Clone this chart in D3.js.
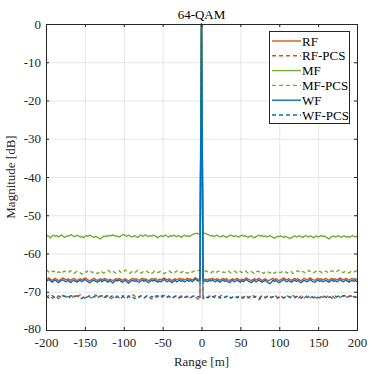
<!DOCTYPE html>
<html><head><meta charset="utf-8">
<script src="https://cdn.jsdelivr.net/npm/d3@7"></script>
<style>
html,body{margin:0;padding:0;background:#fff;}
svg{display:block;font-family:"Liberation Serif","Times New Roman",serif;}
</style></head>
<body><svg id="chart" width="379" height="374"></svg>
<script>
const rangeM = [-200,-198,-196,-194,-192,-190,-188,-186,-184,-182,-180,-178,-176,-174,-172,-170,-168,-166,-164,-162,
-160,-158,-156,-154,-152,-150,-148,-146,-144,-142,-140,-138,-136,-134,-132,-130,-128,-126,-124,-122,
-120,-118,-116,-114,-112,-110,-108,-106,-104,-102,-100,-98,-96,-94,-92,-90,-88,-86,-84,-82,
-80,-78,-76,-74,-72,-70,-68,-66,-64,-62,-60,-58,-56,-54,-52,-50,-48,-46,-44,-42,
-40,-38,-36,-34,-32,-30,-28,-26,-24,-22,-20,-18,-16,-14,-12,-10,-8,-6,-4,-2,
0,
2,4,6,8,10,12,14,16,18,20,22,24,26,28,30,32,34,36,38,40,
42,44,46,48,50,52,54,56,58,60,62,64,66,68,70,72,74,76,78,80,
82,84,86,88,90,92,94,96,98,100,102,104,106,108,110,112,114,116,118,120,
122,124,126,128,130,132,134,136,138,140,142,144,146,148,150,152,154,156,158,160,
162,164,166,168,170,172,174,176,178,180,182,184,186,188,190,192,194,196,198,200];

const RF = [-66.9,-66.6,-66.4,-66.8,-67.0,-66.7,-66.5,-66.8,-67.1,-66.9,
-66.6,-66.4,-66.7,-66.9,-66.6,-66.8,-67.0,-66.7,-66.5,-66.8,
-67.1,-66.8,-66.6,-66.9,-66.7,-66.4,-66.6,-66.9,-67.2,-66.9,
-66.7,-66.5,-66.8,-67.0,-66.8,-66.6,-66.9,-66.7,-66.5,-66.8,
-67.0,-66.7,-66.9,-67.1,-66.8,-66.6,-66.8,-66.5,-66.7,-67.0,
-66.8,-66.6,-66.9,-67.2,-66.9,-66.7,-66.5,-66.8,-66.6,-66.9,
-67.0,-66.7,-66.5,-66.8,-66.6,-66.9,-67.1,-66.8,-66.6,-66.7,
-66.5,-66.8,-67.0,-66.7,-66.9,-66.6,-66.4,-66.7,-66.9,-66.6,
-66.8,-67.1,-66.8,-66.6,-66.9,-66.7,-66.5,-66.8,-66.6,-66.9,
-66.7,-66.5,-66.8,-66.6,-66.9,-66.7,-66.3,-66.6,-66.8,-66.7,
0,
-66.6,-66.8,-66.7,-66.9,-66.6,-66.8,-66.5,-66.7,-66.9,-66.6,
-66.8,-67.0,-66.7,-66.5,-66.8,-66.6,-66.9,-67.1,-66.8,-66.6,
-66.9,-66.7,-66.5,-66.8,-67.0,-66.7,-66.9,-66.6,-66.4,-66.7,
-66.9,-67.1,-66.8,-66.6,-66.9,-66.7,-66.5,-66.8,-67.0,-66.8,
-66.6,-66.9,-67.2,-66.9,-66.7,-66.5,-66.8,-66.6,-66.9,-67.1,
-66.8,-66.6,-66.4,-66.7,-66.9,-66.6,-66.8,-67.0,-66.7,-66.5,
-66.8,-66.6,-66.9,-67.1,-66.8,-66.5,-66.7,-66.9,-66.6,-66.4,
-66.7,-66.9,-67.0,-66.7,-66.5,-66.8,-66.6,-66.9,-66.7,-66.5,
-66.8,-67.0,-66.7,-66.5,-66.8,-66.6,-66.9,-66.7,-66.4,-66.6,
-66.9,-66.7,-66.5,-66.8,-67.0,-66.7,-66.5,-66.8,-66.6,-66.9];

const RF_PCS = [-71.5,-71.2,-70.9,-71.4,-71.7,-71.3,-71.0,-71.4,-71.8,-71.5,
-71.2,-70.9,-71.3,-71.6,-71.2,-71.4,-71.9,-71.5,-71.1,-71.3,
-71.6,-71.2,-70.8,-71.1,-71.4,-71.7,-71.3,-71.0,-71.3,-71.6,
-71.4,-71.1,-70.8,-71.2,-71.5,-71.2,-71.0,-71.4,-71.7,-71.3,
-71.1,-71.4,-71.8,-71.5,-71.2,-70.9,-71.3,-71.6,-71.2,-71.0,
-71.4,-71.7,-71.3,-71.1,-71.5,-71.2,-70.8,-71.1,-71.4,-71.6,
-71.3,-71.0,-71.4,-71.7,-71.4,-71.1,-71.3,-71.6,-71.9,-71.5,
-71.2,-71.0,-71.3,-71.5,-71.2,-70.9,-71.2,-71.5,-71.3,-71.1,
-71.4,-71.7,-71.4,-71.1,-71.3,-71.6,-71.3,-71.0,-71.2,-71.5,
-71.3,-71.0,-71.4,-71.6,-71.3,-71.1,-71.4,-71.7,-71.9,-72.0,
0,
-71.8,-71.5,-71.2,-71.4,-71.1,-71.3,-71.6,-71.2,-71.0,-71.3,
-71.5,-71.2,-70.9,-71.2,-71.5,-71.3,-71.0,-71.4,-71.7,-71.4,
-71.1,-71.3,-71.6,-71.3,-71.0,-71.4,-71.7,-71.3,-71.1,-71.4,
-71.6,-71.3,-71.0,-71.2,-71.5,-71.8,-72.1,-71.7,-71.4,-71.2,
-71.5,-71.3,-71.0,-71.3,-71.6,-71.2,-70.9,-71.2,-71.5,-71.3,
-71.1,-71.4,-71.7,-71.4,-71.1,-71.3,-71.6,-71.2,-71.0,-71.3,
-71.5,-71.8,-71.4,-71.1,-71.3,-71.6,-71.3,-71.0,-71.3,-71.6,
-71.3,-71.0,-71.4,-71.7,-71.4,-71.1,-71.3,-71.5,-71.2,-70.9,
-71.2,-71.5,-71.3,-71.0,-71.4,-71.7,-71.3,-71.1,-71.4,-71.6,
-71.2,-70.9,-71.3,-71.6,-71.3,-71.0,-71.4,-71.2,-71.5,-71.3];

const MF = [-55.5,-55.3,-55.6,-55.9,-55.4,-55.2,-55.5,-55.3,-55.7,-55.4,
-55.1,-55.5,-55.8,-55.6,-55.3,-55.4,-55.0,-55.3,-55.6,-55.5,
-55.2,-55.4,-55.7,-55.5,-55.9,-55.6,-55.3,-55.5,-55.2,-55.4,
-55.6,-55.8,-55.5,-55.7,-56.0,-56.2,-55.8,-55.5,-55.6,-55.3,
-55.5,-55.2,-55.4,-55.1,-55.3,-55.6,-55.4,-55.7,-55.5,-55.2,
-55.0,-55.3,-55.5,-55.2,-55.4,-55.7,-55.5,-55.3,-55.6,-55.8,
-55.4,-55.2,-55.5,-55.3,-55.1,-55.4,-55.6,-55.3,-55.5,-55.2,
-55.4,-55.6,-55.9,-55.5,-55.3,-55.6,-55.4,-55.2,-55.5,-55.7,
-55.3,-55.5,-55.2,-55.4,-55.6,-55.3,-55.5,-55.8,-55.4,-55.2,
-55.5,-55.3,-55.6,-55.4,-55.1,-54.9,-54.8,-54.7,-54.9,-54.8,
0,
-54.8,-54.7,-54.9,-55.0,-55.2,-55.4,-55.3,-55.6,-55.4,-55.2,
-55.5,-55.7,-55.4,-55.3,-55.6,-55.8,-55.5,-55.3,-55.2,-55.4,
-55.6,-55.3,-55.5,-55.7,-55.4,-55.2,-55.5,-55.3,-55.6,-55.8,
-55.5,-55.4,-55.7,-55.9,-55.6,-55.4,-55.2,-55.5,-55.3,-55.6,
-55.4,-55.7,-55.5,-55.3,-55.6,-55.8,-56.0,-55.7,-55.5,-55.6,
-55.4,-55.6,-55.8,-55.5,-55.7,-55.9,-56.1,-55.8,-55.6,-55.4,
-55.7,-55.5,-55.3,-55.6,-55.8,-55.5,-55.3,-55.5,-55.7,-55.4,
-55.6,-55.9,-55.6,-55.4,-55.7,-55.5,-55.3,-55.6,-55.4,-55.7,
-55.9,-56.2,-55.8,-55.6,-55.4,-55.7,-55.5,-55.3,-55.6,-55.8,
-55.5,-55.4,-55.7,-55.5,-55.8,-55.6,-55.3,-55.5,-55.7,-55.4];

const MF_PCS = [-64.3,-64.5,-64.9,-65.1,-64.7,-64.6,-65.0,-65.2,-64.8,-64.9,
-65.3,-64.8,-64.6,-64.9,-65.1,-64.7,-64.5,-64.8,-65.2,-64.9,
-64.6,-64.8,-65.0,-65.4,-65.1,-64.7,-64.9,-64.5,-64.3,-64.8,
-65.0,-64.7,-64.9,-65.3,-65.0,-64.6,-64.8,-65.1,-64.9,-64.6,
-64.4,-64.8,-65.1,-64.7,-64.9,-65.2,-64.8,-64.5,-64.9,-65.1,
-64.7,-64.3,-64.6,-64.9,-65.2,-64.8,-64.6,-65.0,-64.7,-64.4,
-64.8,-65.1,-64.9,-64.6,-64.4,-64.7,-65.0,-64.8,-65.2,-64.9,
-64.5,-64.7,-65.0,-64.8,-64.6,-64.9,-65.3,-65.0,-64.7,-64.5,
-64.8,-65.1,-64.7,-64.9,-64.6,-64.4,-64.8,-65.0,-64.7,-64.5,
-64.9,-65.2,-64.8,-64.6,-64.9,-64.7,-64.5,-64.6,-64.4,-64.5,
0,
-64.4,-64.6,-64.5,-64.8,-64.9,-65.1,-64.7,-64.9,-65.2,-64.8,
-64.6,-64.9,-65.1,-64.8,-65.0,-64.7,-64.5,-64.8,-65.1,-64.9,
-64.6,-64.8,-65.2,-64.9,-64.7,-65.0,-64.6,-64.4,-64.8,-65.1,
-64.9,-64.7,-65.0,-65.3,-64.9,-64.6,-64.8,-64.5,-64.9,-65.2,
-64.8,-64.6,-64.9,-65.1,-64.7,-64.9,-65.2,-64.8,-64.6,-64.9,
-65.0,-64.7,-64.5,-64.8,-65.1,-64.9,-64.6,-64.8,-65.3,-65.0,
-64.7,-64.5,-64.8,-65.0,-64.7,-64.9,-65.2,-64.8,-64.4,-64.7,
-64.9,-65.1,-64.8,-64.6,-64.3,-64.7,-64.9,-65.2,-64.8,-64.6,
-64.9,-65.1,-64.7,-64.5,-64.8,-65.0,-64.7,-64.4,-64.3,-64.7,
-65.0,-64.8,-64.6,-64.9,-65.1,-64.7,-64.5,-64.8,-64.6,-64.5];

const WF = [-67.4,-67.0,-66.8,-67.2,-67.5,-67.1,-66.9,-67.3,-67.6,-67.3,
-67.0,-66.9,-67.2,-67.4,-67.1,-67.3,-67.6,-67.2,-67.0,-67.3,
-67.5,-67.2,-67.0,-67.4,-67.1,-66.8,-67.1,-67.4,-67.7,-67.4,
-67.1,-67.0,-67.3,-67.5,-67.2,-67.0,-67.4,-67.1,-66.9,-67.3,
-67.5,-67.1,-67.4,-67.7,-67.3,-67.0,-67.2,-66.9,-67.2,-67.5,
-67.3,-67.0,-67.4,-67.8,-67.4,-67.1,-67.0,-67.3,-67.1,-67.4,
-67.5,-67.2,-66.9,-67.3,-67.0,-67.4,-67.6,-67.2,-67.0,-67.2,
-66.9,-67.3,-67.5,-67.2,-67.4,-67.0,-66.8,-67.2,-67.4,-67.1,
-67.3,-67.6,-67.3,-67.0,-67.4,-67.2,-66.9,-67.3,-67.1,-67.4,
-67.2,-66.9,-67.3,-67.0,-67.4,-67.1,-66.6,-67.0,-67.2,-67.1,
0,
-67.0,-67.3,-67.1,-67.4,-67.0,-67.2,-66.9,-67.2,-67.4,-67.0,
-67.3,-67.5,-67.2,-66.9,-67.3,-67.1,-67.4,-67.6,-67.3,-67.0,
-67.4,-67.2,-66.9,-67.3,-67.5,-67.1,-67.4,-67.0,-66.8,-67.2,
-67.4,-67.6,-67.3,-67.0,-67.4,-67.2,-66.9,-67.3,-67.5,-67.2,
-67.0,-67.4,-67.7,-67.9,-67.5,-67.0,-67.3,-67.1,-67.4,-67.6,
-67.3,-67.1,-66.8,-67.2,-67.4,-67.1,-67.3,-67.5,-67.2,-66.9,
-67.3,-67.1,-67.4,-67.6,-67.3,-67.0,-67.2,-67.4,-67.1,-66.8,
-67.2,-67.4,-67.5,-67.2,-66.9,-67.3,-67.1,-67.4,-67.2,-67.0,
-67.3,-67.5,-67.2,-66.9,-67.3,-67.1,-67.4,-67.2,-66.8,-67.1,
-67.4,-67.2,-66.9,-67.3,-67.5,-67.2,-67.0,-67.3,-67.1,-67.4];

const WF_PCS = [-71.1,-71.4,-71.6,-71.2,-71.0,-71.3,-71.6,-71.4,-71.1,-71.3,
-71.6,-71.3,-71.1,-71.4,-71.7,-71.3,-71.0,-71.2,-71.5,-71.2,
-71.0,-71.3,-71.5,-71.8,-71.4,-71.2,-71.5,-71.3,-71.0,-71.2,
-71.5,-71.2,-71.4,-71.7,-71.3,-71.1,-71.4,-71.6,-71.3,-71.0,
-71.3,-71.6,-71.2,-71.0,-71.3,-71.5,-71.2,-71.4,-71.7,-71.4,
-71.1,-71.3,-71.6,-71.3,-71.0,-71.2,-71.5,-71.8,-71.4,-71.2,
-71.4,-71.1,-71.3,-71.6,-71.3,-71.0,-71.3,-71.5,-71.2,-71.4,
-71.7,-71.4,-71.1,-71.3,-71.6,-71.3,-71.0,-71.3,-71.5,-71.2,
-71.4,-71.2,-71.5,-71.3,-71.0,-71.3,-71.6,-71.4,-71.1,-71.3,
-71.5,-71.2,-71.4,-71.6,-71.3,-71.1,-71.4,-71.2,-71.3,-71.5,
0,
-71.3,-71.1,-71.4,-71.6,-71.3,-71.0,-71.2,-71.5,-71.3,-71.1,
-71.4,-71.7,-71.4,-71.2,-71.5,-71.3,-71.0,-71.3,-71.6,-71.4,
-71.1,-71.3,-71.5,-71.2,-71.4,-71.7,-71.4,-71.1,-71.3,-71.6,
-71.3,-71.0,-71.3,-71.5,-71.2,-71.4,-71.7,-71.3,-71.1,-71.4,
-71.6,-71.3,-71.0,-71.2,-71.5,-71.3,-71.1,-71.4,-71.7,-71.4,
-71.2,-71.4,-71.6,-71.3,-71.0,-71.3,-71.5,-71.2,-71.4,-71.6,
-71.3,-71.1,-71.4,-71.7,-71.4,-71.1,-71.3,-71.5,-71.2,-71.0,
-71.3,-71.6,-71.3,-71.1,-71.4,-71.6,-71.3,-71.0,-71.2,-71.5,
-71.3,-71.1,-71.4,-71.7,-71.3,-71.1,-71.4,-71.2,-71.5,-71.3,
-71.0,-71.3,-71.6,-71.4,-71.1,-71.3,-71.5,-71.2,-71.4,-71.6];

const seriesNames = ["RF","RF-PCS","MF","MF-PCS","WF","WF-PCS"];
const seriesValues = [RF, RF_PCS, MF, MF_PCS, WF, WF_PCS];
const seriesColors = ["#D95319","#D95319","#77AC30","#77AC30","#0072BD","#0072BD"];
const seriesDashed = [false,true,false,true,false,true];
const xTicks = [-200,-150,-100,-50,0,50,100,150,200];
const yTicks = [0,-10,-20,-30,-40,-50,-60,-70,-80];
const title = "64-QAM";
const xLabel = "Range [m]";
const yLabel = "Magnitude [dB]";

const svg = d3.select("#chart");
const L = 46, R = 357, T = 24, B = 330;
const x = d3.scaleLinear().domain([-200,200]).range([L,R]);
const y = d3.scaleLinear().domain([-80,0]).range([B,T]);
const axisColor = "#262626";
const fmt = d => String(d);

// grid
const grid = svg.append("g");
grid.selectAll(".gx").data(xTicks).join("line")
  .attr("x1",d=>x(d)+0.5).attr("x2",d=>x(d)+0.5).attr("y1",T).attr("y2",B)
  .attr("stroke","#e6e6e6").attr("stroke-width",1);
grid.selectAll(".gy").data(yTicks).join("line")
  .attr("y1",d=>y(d)+0.5).attr("y2",d=>y(d)+0.5).attr("x1",L).attr("x2",R)
  .attr("stroke","#e6e6e6").attr("stroke-width",1);

// lines
svg.append("clipPath").attr("id","clip").append("rect")
  .attr("x",L).attr("y",T-1).attr("width",R-L).attr("height",B-T+1);
const line = d3.line().x((d,i)=>x(rangeM[i])).y(d=>y(d));
const lg = svg.append("g").attr("clip-path","url(#clip)");
seriesValues.forEach((vals,k)=>{
  lg.append("path").datum(vals).attr("d",line)
    .attr("fill","none").attr("stroke",seriesColors[k])
    .attr("stroke-width",1.4)
    .attr("stroke-linejoin","round")
    .attr("stroke-dasharray",seriesDashed[k]?"4,3":null);
});

// axes
const fs = 13;
const ax = svg.append("g").attr("transform",`translate(0,${B})`)
  .call(d3.axisBottom(x).tickValues(xTicks).tickSize(-3).tickPadding(8).tickFormat(fmt));
const axT = svg.append("g").attr("transform",`translate(0,${T})`)
  .call(d3.axisTop(x).tickValues(xTicks).tickSize(-3).tickFormat(""));
const ay = svg.append("g").attr("transform",`translate(${L},0)`)
  .call(d3.axisLeft(y).tickValues(yTicks).tickSize(-3).tickPadding(5).tickFormat(fmt));
const ayR = svg.append("g").attr("transform",`translate(${R},0)`)
  .call(d3.axisRight(y).tickValues(yTicks).tickSize(-3).tickFormat(""));
[ax,axT,ay,ayR].forEach(g=>{
  g.selectAll("path").attr("stroke",axisColor).attr("stroke-width",1);
  g.selectAll("line").attr("stroke",axisColor);
  g.selectAll("text").attr("fill",axisColor)
    .style("font-family","'Liberation Serif',serif").style("font-size",fs+"px");
});
// nudge the lowest y label up slightly so it does not touch the x labels
ay.selectAll("text").filter(d=>d===-80).attr("dy","0.2em");

// labels
svg.append("text").attr("x",(L+R)/2).attr("y",T-5).attr("text-anchor","middle")
  .attr("fill","#000").style("font-size","13px").text(title);
svg.append("text").attr("x",(L+R)/2).attr("y",366).attr("text-anchor","middle")
  .attr("fill",axisColor).style("font-size","13px").text(xLabel);
svg.append("text").attr("transform",`translate(15,${(T+B)/2}) rotate(-90)`)
  .attr("text-anchor","middle").attr("fill",axisColor).style("font-size","13px").text(yLabel);

// legend
const lgX = 269, lgY = 31, lgW = 80, lgH = 92;
const leg = svg.append("g");
leg.append("rect").attr("x",lgX+0.5).attr("y",lgY+0.5).attr("width",lgW).attr("height",lgH)
  .attr("fill","#fff").attr("stroke",axisColor).attr("stroke-width",1);
seriesNames.forEach((n,k)=>{
  const yy = lgY + 10 + k*14.8;
  leg.append("line").attr("x1",lgX+3).attr("x2",lgX+32).attr("y1",yy).attr("y2",yy)
    .attr("stroke",seriesColors[k]).attr("stroke-width",1.4)
    .attr("stroke-dasharray",seriesDashed[k]?"4,3":null);
  leg.append("text").attr("x",lgX+33).attr("y",yy+4.5).attr("fill","#000")
    .style("font-size","13px").text(n);
});
</script></body></html>
